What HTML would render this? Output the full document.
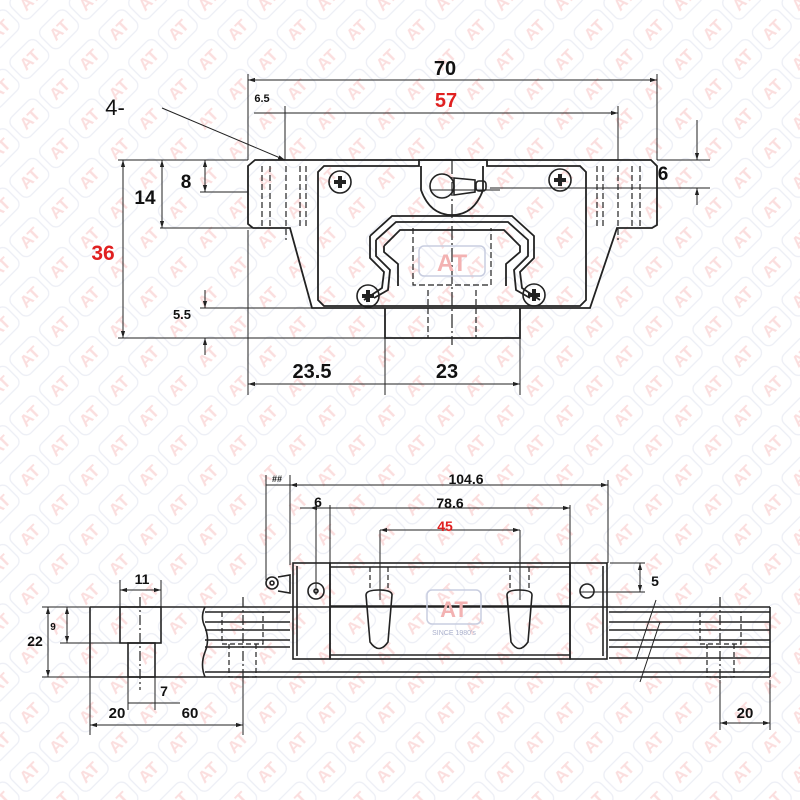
<!DOCTYPE html>
<html><head><meta charset="utf-8"><style>html,body{margin:0;padding:0;background:#fff}svg{display:block}</style></head>
<body>
<svg width="800" height="800" viewBox="0 0 800 800" xmlns="http://www.w3.org/2000/svg" font-family="Liberation Sans, sans-serif">
<defs>
<pattern id="wm" width="42" height="42" patternUnits="userSpaceOnUse" patternTransform="rotate(-45)">
<rect x="3" y="7" width="36" height="27" rx="7" fill="none" stroke="#eceef5" stroke-width="1.3"/>
<text x="21" y="27" font-size="17" font-weight="bold" fill="#fbdede" text-anchor="middle">AT</text>
</pattern>
<marker id="a" viewBox="0 0 10 10" refX="10" refY="5" markerWidth="7" markerHeight="7" orient="auto-start-reverse"><path d="M0,2 L10,5 L0,8z" fill="#222"/></marker>
</defs>
<rect width="800" height="800" fill="#fff"/>
<rect width="800" height="800" fill="url(#wm)"/>

<g stroke="#222" fill="none" stroke-width="1">
<line x1="248" y1="74" x2="248" y2="160"/><line x1="657" y1="74" x2="657" y2="160"/>
<line x1="285" y1="106" x2="285" y2="160"/><line x1="618" y1="106" x2="618" y2="160"/>
<line x1="248" y1="80" x2="657" y2="80" marker-start="url(#a)" marker-end="url(#a)"/>
<line x1="254" y1="113" x2="618" y2="113" marker-end="url(#a)"/>
<line x1="162" y1="108" x2="285" y2="160" marker-end="url(#a)"/>
<line x1="118" y1="160" x2="248" y2="160"/><line x1="160" y1="228" x2="253" y2="228"/>
<line x1="200" y1="192" x2="248" y2="192"/><line x1="118" y1="338" x2="385" y2="338"/>
<line x1="200" y1="308" x2="312" y2="308"/>
<line x1="123" y1="160" x2="123" y2="338" marker-start="url(#a)" marker-end="url(#a)"/>
<line x1="162" y1="160" x2="162" y2="228" marker-start="url(#a)" marker-end="url(#a)"/>
<line x1="205" y1="160" x2="205" y2="192" marker-start="url(#a)" marker-end="url(#a)"/>
<line x1="205" y1="290" x2="205" y2="308" marker-end="url(#a)"/>
<line x1="205" y1="355" x2="205" y2="338" marker-end="url(#a)"/>
<line x1="490" y1="188" x2="710" y2="188"/><line x1="657" y1="160" x2="710" y2="160"/>
<line x1="697" y1="120" x2="697" y2="160" marker-end="url(#a)"/>
<line x1="697" y1="205" x2="697" y2="188" marker-end="url(#a)"/>
<line x1="248" y1="230" x2="248" y2="395"/><line x1="385" y1="338" x2="385" y2="395"/><line x1="520" y1="338" x2="520" y2="395"/>
<line x1="248" y1="384" x2="520" y2="384" marker-start="url(#a)" marker-end="url(#a)"/>
<line x1="385" y1="378" x2="385" y2="390"/>

<g stroke-width="1.8">
<path d="M255,160 L651,160 L657,166 L657,225 L652,228 L617,228 L590,308 L312,308 L290,228 L253,228 L248,224 L248,166 Z"/>
<path d="M324,166 L419,166 L419,160 L487,160 L487,166 L580,166 L586,172 L586,300 L580,306 L324,306 L318,300 L318,172 Z"/>
<path d="M385,308 L385,338 L520,338 L520,308"/>
<path d="M421,166 L421,190 Q430,215 452,215 Q474,215 483,190 L483,166"/>
<path d="M370,236 L392,216 L512,216 L534,236 L534,258 L520,272 L522,288 L540,300" />
<path d="M376,240 L396,222 L508,222 L528,240 L528,256 L514,270 L516,290 L530,298"/>
<path d="M370,236 L370,258 L384,272 L382,288 L364,300"/>
<path d="M376,240 L376,256 L390,270 L388,290 L374,298"/>
<path d="M384,246 L400,230 L504,230 L520,246 L520,252 L506,264 L506,286 M384,246 L384,252 L398,264 L398,286"/>
</g>
<g stroke-width="1.2" stroke-dasharray="6,3">
<line x1="262" y1="166" x2="262" y2="228"/><line x1="270" y1="166" x2="270" y2="228"/>
<line x1="300" y1="166" x2="300" y2="228"/><line x1="306" y1="166" x2="306" y2="228"/>
<line x1="597" y1="166" x2="597" y2="228"/><line x1="603" y1="166" x2="603" y2="228"/>
<line x1="632" y1="166" x2="632" y2="228"/><line x1="640" y1="166" x2="640" y2="228"/>
<path d="M413,228 L413,285 L491,285 L491,228"/>
<line x1="428" y1="290" x2="428" y2="338"/><line x1="476" y1="290" x2="476" y2="338"/>
<line x1="286" y1="166" x2="286" y2="240"/><line x1="618" y1="166" x2="618" y2="240"/>
<line x1="452" y1="160" x2="452" y2="345" stroke-dasharray="14,3,2,3"/>
</g>
<g stroke-width="1.6">
<circle cx="340" cy="182" r="11"/><circle cx="560" cy="180" r="11"/><circle cx="368" cy="296" r="11"/><circle cx="534" cy="295" r="11"/>
<path d="M334,182h12M340,176v12M554,180h12M560,174v12M362,296h12M368,290v12M528,295h12M534,289v12" stroke-width="4"/>
<circle cx="442" cy="186" r="12"/>
<path d="M454,178 L475,180 L475,192 L454,195 Z"/><rect x="476" y="181" width="10" height="10" rx="3"/>
<line x1="430" y1="190" x2="500" y2="190" stroke-width="1"/>
</g>
<rect x="419" y="246" width="66" height="30" rx="5" stroke="#c8cde0" stroke-width="1.5"/>
<text x="452" y="271" font-size="24" font-weight="bold" fill="#f3b2b2" stroke="none" text-anchor="middle">AT</text>

<line x1="266" y1="475" x2="266" y2="580"/><line x1="290" y1="475" x2="290" y2="565"/>
<line x1="608" y1="480" x2="608" y2="563"/>
<line x1="266" y1="485" x2="290" y2="485"/>
<line x1="290" y1="485" x2="608" y2="485" marker-start="url(#a)" marker-end="url(#a)"/>
<line x1="300" y1="508" x2="570" y2="508" marker-end="url(#a)"/>
<line x1="330" y1="508" x2="310" y2="508" marker-end="url(#a)"/>
<line x1="330" y1="505" x2="330" y2="563"/><line x1="570" y1="505" x2="570" y2="563"/>
<line x1="316" y1="505" x2="316" y2="595"/>
<line x1="380" y1="530" x2="520" y2="530" marker-start="url(#a)" marker-end="url(#a)"/>
<line x1="380" y1="530" x2="380" y2="600"/><line x1="520" y1="530" x2="520" y2="600"/>
<line x1="610" y1="563" x2="645" y2="563"/><line x1="580" y1="592" x2="645" y2="592"/>
<line x1="640" y1="563" x2="640" y2="592" marker-start="url(#a)" marker-end="url(#a)"/>
<line x1="120" y1="580" x2="120" y2="607"/><line x1="161" y1="580" x2="161" y2="607"/>
<line x1="120" y1="590" x2="161" y2="590" marker-start="url(#a)" marker-end="url(#a)"/>
<line x1="42" y1="607" x2="90" y2="607"/><line x1="42" y1="677" x2="90" y2="677"/>
<line x1="60" y1="643" x2="120" y2="643"/>
<line x1="48" y1="607" x2="48" y2="677" marker-start="url(#a)" marker-end="url(#a)"/>
<line x1="67" y1="607" x2="67" y2="643" marker-start="url(#a)" marker-end="url(#a)"/>
<line x1="90" y1="677" x2="90" y2="735"/><line x1="243" y1="677" x2="243" y2="735"/>
<line x1="128" y1="677" x2="128" y2="710"/><line x1="155" y1="677" x2="155" y2="710"/>
<line x1="128" y1="703" x2="180" y2="703"/>
<line x1="90" y1="725" x2="243" y2="725" marker-start="url(#a)" marker-end="url(#a)"/>
<line x1="720" y1="680" x2="720" y2="730"/><line x1="770" y1="680" x2="770" y2="730"/>
<line x1="720" y1="723" x2="770" y2="723" marker-start="url(#a)" marker-end="url(#a)"/>

<g stroke-width="1.6">
<path d="M90,607 L205,607 M90,607 L90,677 L205,677 M205,607 Q200,617 205,627 Q210,640 205,652 Q200,665 205,677"/>
<line x1="205" y1="607" x2="770" y2="607"/><line x1="205" y1="612" x2="290" y2="612"/>
<line x1="205" y1="622" x2="290" y2="622"/><line x1="205" y1="630" x2="290" y2="630"/>
<line x1="205" y1="640" x2="290" y2="640"/><line x1="205" y1="647" x2="290" y2="647"/>
<line x1="609" y1="612" x2="770" y2="612"/><line x1="609" y1="622" x2="770" y2="622"/>
<line x1="609" y1="630" x2="770" y2="630"/><line x1="609" y1="640" x2="770" y2="640"/>
<line x1="609" y1="647" x2="770" y2="647"/><line x1="609" y1="658" x2="770" y2="658"/>
<line x1="205" y1="672" x2="770" y2="672"/><line x1="205" y1="677" x2="770" y2="677"/>
<line x1="770" y1="607" x2="770" y2="677"/>
<rect x="120" y="607" width="41" height="36"/><rect x="128" y="643" width="27" height="34"/>
<line x1="636" y1="660" x2="656" y2="600" stroke-width="1"/><line x1="640" y1="682" x2="660" y2="622" stroke-width="1"/>
<rect x="293" y="563" width="37" height="96"/><rect x="330" y="563" width="240" height="96"/>
<rect x="570" y="563" width="37" height="96"/>
<line x1="297" y1="566" x2="297" y2="656"/><line x1="603" y1="566" x2="603" y2="656"/>
<line x1="330" y1="567" x2="570" y2="567"/><line x1="330" y1="606" x2="570" y2="606"/><line x1="330" y1="655" x2="570" y2="655"/>
<circle cx="316" cy="591" r="8"/><circle cx="316" cy="591" r="2"/><circle cx="587" cy="591" r="7"/>
<circle cx="272" cy="583" r="6"/><circle cx="272" cy="583" r="2"/>
<path d="M278,577 L290,575 L290,593 L278,591"/>
<path d="M366,595 Q366,590 379,590 Q392,590 392,595 L388,642 Q379,655 370,642 Z"/>
<path d="M507,595 Q507,590 519,590 Q532,590 532,595 L528,642 Q519,655 511,642 Z"/>
</g>
<g stroke-width="1.2" stroke-dasharray="5,3">
<path d="M370,567 L370,590 M388,567 L388,590 M510,567 L510,590 M529,567 L529,590"/>
<path d="M222,612 L222,644 L263,644 L263,612 M229,644 L229,677 L256,677 L256,644"/>
<path d="M700,612 L700,644 L741,644 L741,612 M707,644 L707,677 L734,677 L734,644"/>
<line x1="140" y1="597" x2="140" y2="690" stroke-dasharray="10,3,2,3"/>
<line x1="243" y1="597" x2="243" y2="680" stroke-dasharray="10,3,2,3"/>
<line x1="720" y1="597" x2="720" y2="680" stroke-dasharray="10,3,2,3"/>
</g>
<rect x="427" y="590" width="54" height="34" rx="5" stroke="#c8cde0" stroke-width="1.5"/>
<text x="454" y="617" font-size="22" font-weight="bold" fill="#f3b2b2" stroke="none" text-anchor="middle">AT</text>
<text x="454" y="635" font-size="7" fill="#aab0cc" stroke="none" text-anchor="middle">SINCE 1980's</text>
</g>

<g fill="#111" font-weight="bold" text-anchor="middle">
<text x="445" y="75" font-size="20">70</text>
<text x="446" y="107" font-size="20" fill="#e02020">57</text>
<text x="262" y="102" font-size="11">6.5</text>
<text x="115" y="115" font-size="22" font-weight="normal">4-</text>
<text x="145" y="204" font-size="19">14</text>
<text x="186" y="188" font-size="19">8</text>
<text x="103" y="260" font-size="21" fill="#e02020">36</text>
<text x="182" y="319" font-size="13">5.5</text>
<text x="663" y="180" font-size="19">6</text>
<text x="312" y="378" font-size="20">23.5</text>
<text x="447" y="378" font-size="20">23</text>
<text x="466" y="484" font-size="14">104.6</text>
<text x="450" y="508" font-size="14">78.6</text>
<text x="445" y="531" font-size="14" fill="#e02020">45</text>
<text x="318" y="507" font-size="14">6</text>
<text x="277" y="482" font-size="9">##</text>
<text x="655" y="586" font-size="14">5</text>
<text x="142" y="584" font-size="14">11</text>
<text x="35" y="646" font-size="14">22</text>
<text x="53" y="630" font-size="10">9</text>
<text x="164" y="696" font-size="14">7</text>
<text x="117" y="718" font-size="15">20</text>
<text x="190" y="718" font-size="15">60</text>
<text x="745" y="718" font-size="15">20</text>
</g>
</svg>
</body></html>
